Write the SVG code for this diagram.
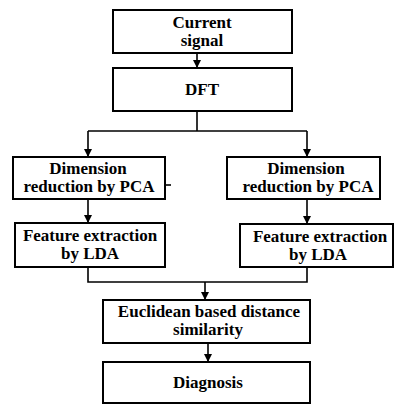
<svg xmlns="http://www.w3.org/2000/svg" width="395" height="406" viewBox="0 0 395 406">
<defs>
<marker id="ah" markerWidth="8" markerHeight="10" refX="7" refY="4" orient="auto" markerUnits="userSpaceOnUse">
<path d="M0,0 L8,4 L0,8 Z" fill="#000"/>
</marker>
<style>
.box{fill:#fff;stroke:#000;stroke-width:2}
.t{font-family:"Liberation Serif","DejaVu Serif",serif;font-weight:bold;font-size:17px;text-anchor:middle;fill:#000}
.c{fill:none;stroke:#000;stroke-width:1.6}
</style>
</defs>
<rect width="395" height="406" fill="#fff"/>
<g id="connectors">
<line class="c" x1="197" y1="53" x2="197" y2="67" marker-end="url(#ah)"/>
<polyline class="c" points="197,111 197,131"/>
<polyline class="c" points="88,131 307,131"/>
<line class="c" x1="88" y1="131" x2="88" y2="156" marker-end="url(#ah)"/>
<line class="c" x1="307" y1="131" x2="307" y2="156" marker-end="url(#ah)"/>
<line class="c" x1="88" y1="199" x2="88" y2="222" marker-end="url(#ah)"/>
<line class="c" x1="307" y1="199" x2="307" y2="223" marker-end="url(#ah)"/>
<polyline class="c" points="88,267 88,282 307,282 307,267"/>
<line class="c" x1="205" y1="282" x2="205" y2="299" marker-end="url(#ah)"/>
<line class="c" x1="208" y1="343" x2="208" y2="361" marker-end="url(#ah)"/>
<line class="c" x1="165" y1="185" x2="171" y2="185"/>
</g>
<g id="current-signal">
<rect class="box" x="113" y="10" width="179" height="43"/>
<text class="t" x="202" y="27.5">Current</text>
<text class="t" x="202" y="45.5">signal</text>
</g>
<g id="dft">
<rect class="box" x="113" y="68" width="179" height="43"/>
<text class="t" x="202" y="95">DFT</text>
</g>
<g id="pca-left">
<rect class="box" x="13" y="157" width="152" height="42"/>
<text class="t" x="88" y="173.5">Dimension</text>
<text class="t" x="89" y="191.5">reduction by PCA</text>
</g>
<g id="pca-right">
<rect class="box" x="227" y="157" width="153" height="42"/>
<text class="t" x="306" y="173.5">Dimension</text>
<text class="t" x="308" y="191.5">reduction by PCA</text>
</g>
<g id="lda-left">
<rect class="box" x="15" y="223" width="150" height="44"/>
<text class="t" x="90" y="241">Feature extraction</text>
<text class="t" x="90" y="259">by LDA</text>
</g>
<g id="lda-right">
<rect class="box" x="240" y="224" width="153" height="43"/>
<text class="t" x="320" y="242">Feature extraction</text>
<text class="t" x="318" y="260">by LDA</text>
</g>
<g id="euclidean">
<rect class="box" x="103" y="300" width="207" height="43"/>
<text class="t" x="209" y="317">Euclidean based distance</text>
<text class="t" x="208" y="335">similarity</text>
</g>
<g id="diagnosis">
<rect class="box" x="103" y="362" width="207" height="41"/>
<text class="t" x="208" y="388">Diagnosis</text>
</g>
</svg>
